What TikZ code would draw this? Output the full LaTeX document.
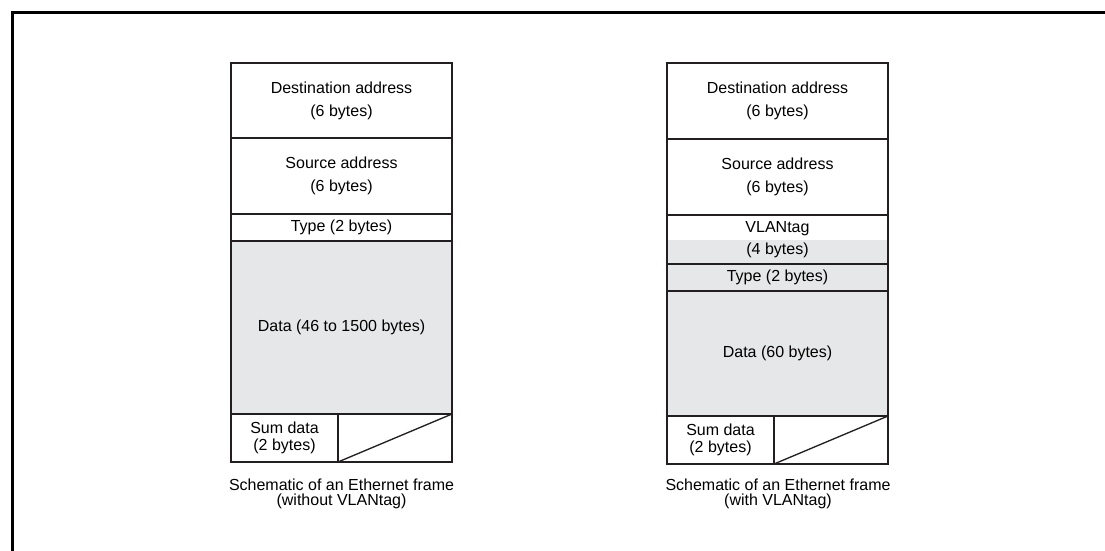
\documentclass[tikz,border=0pt]{standalone}
\usepackage{fontspec}
\setmainfont{Liberation Sans}
\usetikzlibrary{positioning}
\definecolor{fieldgray}{HTML}{E6E7E8}
\definecolor{fieldline}{HTML}{231F20}

\begin{document}
\begin{tikzpicture}[
  field/.style={draw=fieldline,line width=1.3pt,fill=white,minimum width=165.75pt,
                inner sep=0pt,outer sep=0pt,align=center,
                font=\fontsize{12}{17.25}\selectfont},
  datafield/.style={field,fill=fieldgray},
  sumfield/.style={field,minimum width=80.25pt,minimum height=36pt,
                   font=\fontsize{12}{12.75}\selectfont},
  blankfield/.style={field,minimum width=85.5pt,minimum height=36pt},
  caption/.style={align=center,font=\fontsize{12}{11.25}\selectfont},
  border/.style={line width=2.25pt},
  diag/.style={draw=fieldline,line width=1pt},
  x=0.75pt, y=-0.75pt
]
\useasboundingbox (0,0) rectangle (1105,550);
% --- outer frame ---
\draw[border] (1110,12) -- (12,12) -- (12,560);

% --- frame without VLAN tag ---
\node[field,minimum height=56.25pt] (ldest) at (341.5,100.5) {Destination address\\(6 bytes)};
\node[field,minimum height=57pt,below=0pt of ldest] (lsrc) {Source address\\(6 bytes)};
\node[field,minimum height=20.25pt,below=0pt of lsrc] (ltype) {Type (2 bytes)};
\node[datafield,minimum height=129.75pt,below=0pt of ltype] (ldata) {Data (46 to 1500 bytes)};
\node[sumfield,anchor=north west] (lsum) at (ldata.south west) {Sum data\\(2 bytes)};
\node[blankfield,anchor=north west] (lblank) at (lsum.north east) {};
\draw[diag] (lblank.south west) -- (lblank.north east);
\node[caption] (lcap) at (341.5,494) {Schematic of an Ethernet frame\\(without VLANtag)};

% --- frame with VLAN tag ---
\node[field,minimum height=57pt] (rdest) at (777.5,101) {Destination address\\(6 bytes)};
\node[field,minimum height=57pt,below=0pt of rdest] (rsrc) {Source address\\(6 bytes)};
\node[datafield,minimum height=36.75pt,below=0pt of rsrc,
      path picture={\fill[white] (path picture bounding box.north west)
                    rectangle (path picture bounding box.east);},
      font=\fontsize{12}{16.5}\selectfont] (rvlan) {VLANtag\\(4 bytes)};
\node[datafield,minimum height=20.25pt,below=0pt of rvlan] (rtype) {Type (2 bytes)};
\node[datafield,minimum height=93.75pt,below=0pt of rtype] (rdata) {Data (60 bytes)};
\node[sumfield,anchor=north west] (rsum) at (rdata.south west) {Sum data\\(2 bytes)};
\node[blankfield,anchor=north west] (rblank) at (rsum.north east) {};
\draw[diag] (rblank.south west) -- (rblank.north east);
\node[caption] (rcap) at (778,494) {Schematic of an Ethernet frame\\(with VLANtag)};
\end{tikzpicture}
\end{document}
